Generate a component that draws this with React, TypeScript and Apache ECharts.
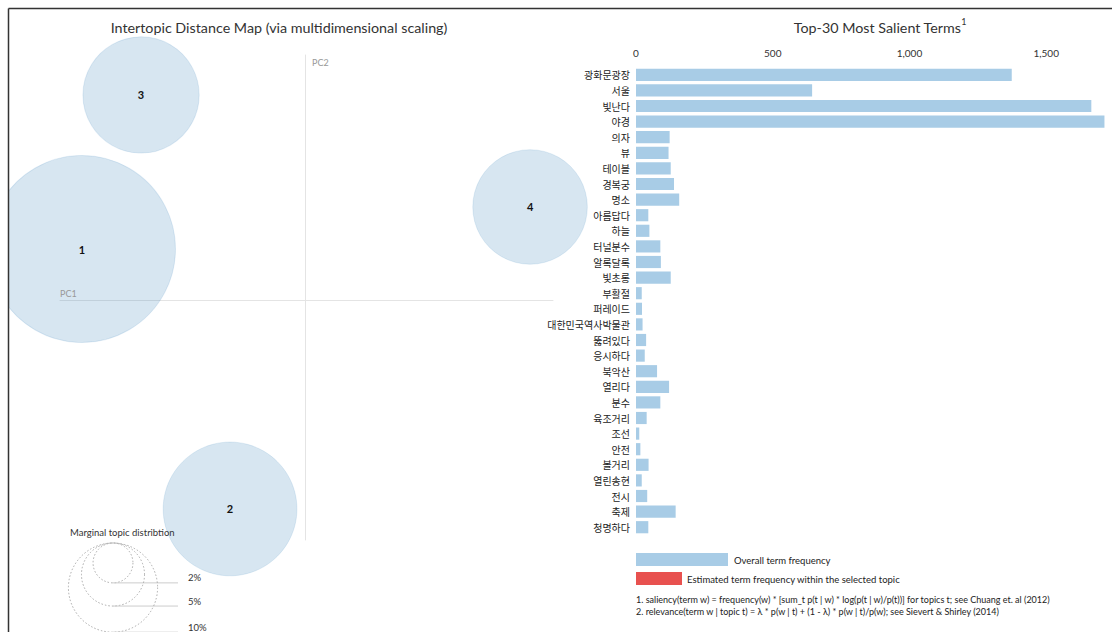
import React, { useEffect, useRef } from "react";
import * as echarts from "echarts";

// ---- Data ----
const TERMS = [
  "광화문광장", "서울", "빛난다", "야경", "의자", "뷰", "테이블", "경복궁", "명소", "아름답다",
  "하늘", "터널분수", "알록달록", "빛초롱", "부활절", "퍼레이드", "대한민국역사박물관", "뚫려있다", "응시하다", "북악산",
  "열리다", "분수", "육조거리", "조선", "안전", "볼거리", "열린송현", "전시", "축제", "청명하다",
];
const TERM_FREQ = [
  1374, 644, 1665, 1713, 123, 119, 127, 139, 158, 45,
  49, 89, 91, 127, 21, 22, 24, 37, 32, 77,
  121, 89, 39, 12, 16, 46, 21, 41, 145, 45,
];
const FREQ_MAX = 1715;
const FREQ_INTERVAL = 500;

const TOPIC_IDS = ["1", "2", "3", "4"];
const TOPIC_PC1 = [-0.2276, -0.0765, -0.1673, 0.2296];
const TOPIC_PC2 = [0.052, -0.2133, 0.2092, 0.0949];
const TOPIC_SHARE = [44, 22.5, 17, 16.5]; // marginal topic distribution, %
const GUIDE_SHARES = [2, 5, 10];

const TITLE_LEFT = "Intertopic Distance Map (via multidimensional scaling)";
const TITLE_RIGHT = "Top-30 Most Salient Terms";
const LEGEND_OVERALL = "Overall term frequency";
const LEGEND_TOPIC = "Estimated term frequency within the selected topic";
const NOTE_1 = "1. saliency(term w) = frequency(w) * [sum_t p(t | w) * log(p(t | w)/p(t))] for topics t; see Chuang et. al (2012)";
const NOTE_2 = "2. relevance(term w | topic t) = λ * p(w | t) + (1 - λ) * p(w | t)/p(w); see Sievert & Shirley (2014)";

// ---- Styles ----
const LATIN = "Lato, 'Noto Sans', sans-serif";
const KOREAN = "'Noto Sans CJK KR', 'Noto Sans', sans-serif";
const BAR_BLUE = "#a8cce6";
const BAR_RED = "#e8514f";
const CIRCLE_FILL = "rgba(31,119,180,0.18)";
const K = 14.1; // px radius per sqrt(%)

export default function App() {
  const ref = useRef<HTMLDivElement>(null);

  useEffect(() => {
    if (!ref.current) return;
    const chart = echarts.init(ref.current, undefined, { renderer: "svg" });

    const guideCx = 113;
    const guideTop = 543;
    const guideX2 = 178;
    const guideEls: any[] = [];
    GUIDE_SHARES.forEach((p) => {
      const r = K * Math.sqrt(p);
      guideEls.push({
        type: "circle",
        shape: { cx: guideCx, cy: guideTop + r, r },
        style: { fill: "none", stroke: "#aaa", lineWidth: 1, lineDash: [1.5, 2] },
        z: 5,
      });
      guideEls.push({
        type: "line",
        shape: { x1: guideCx, y1: guideTop + 2 * r, x2: guideX2, y2: guideTop + 2 * r },
        style: { stroke: "#ccc", lineWidth: 1 },
        z: 5,
      });
      guideEls.push({
        type: "text",
        x: 188,
        y: guideTop + 2 * r - 5,
        style: { text: p + "%", fill: "#333", font: `9.5px ${LATIN}`, textVerticalAlign: "middle" },
        z: 5,
      });
    });

    const option: any = {
      animation: false,
      backgroundColor: "#fff",
      grid: [
        { left: 636, right: 7, top: 67, bottom: 97, containLabel: false },
        { left: 60, right: 559, top: 55, bottom: 92, containLabel: false },
      ],
      xAxis: [
        {
          gridIndex: 0,
          type: "value",
          position: "top",
          min: 0,
          max: FREQ_MAX,
          interval: FREQ_INTERVAL,
          axisLine: { show: false },
          axisTick: { show: false },
          splitLine: { show: false },
          axisLabel: {
            margin: 9,
            color: "#333",
            fontSize: 10,
            fontFamily: LATIN,
            formatter: (v: number) => (v === FREQ_MAX ? "" : v.toLocaleString("en-US")),
          },
        },
        {
          gridIndex: 1,
          type: "value",
          min: -0.25,
          max: 0.253,
          axisLine: { show: true, onZero: true, lineStyle: { color: "#e4e4e4", width: 1 } },
          axisTick: { show: false },
          axisLabel: { show: false },
          splitLine: { show: false },
        },
      ],
      yAxis: [
        {
          gridIndex: 0,
          type: "category",
          inverse: true,
          data: TERMS,
          axisLine: { show: false },
          axisTick: { show: false },
          axisLabel: { margin: 6, color: "#222", fontSize: 10, fontFamily: KOREAN },
        },
        {
          gridIndex: 1,
          type: "value",
          min: -0.245,
          max: 0.25,
          axisLine: { show: true, onZero: true, lineStyle: { color: "#e4e4e4", width: 1 } },
          axisTick: { show: false },
          axisLabel: { show: false },
          splitLine: { show: false },
        },
      ],
      series: [
        {
          type: "bar",
          xAxisIndex: 0,
          yAxisIndex: 0,
          data: TERM_FREQ,
          barCategoryGap: "22%",
          itemStyle: { color: BAR_BLUE },
          silent: true,
        },
        {
          type: "scatter",
          xAxisIndex: 1,
          yAxisIndex: 1,
          clip: false,
          data: TOPIC_IDS.map((id, i) => ({ name: id, value: [TOPIC_PC1[i], TOPIC_PC2[i], TOPIC_SHARE[i]] })),
          symbolSize: (v: number[]) => 2 * K * Math.sqrt(v[2]),
          itemStyle: { color: CIRCLE_FILL, borderColor: "rgba(31,119,180,0.12)", borderWidth: 1, opacity: 1 },
          label: {
            show: true,
            position: "inside",
            formatter: "{b}",
            color: "#111",
            fontSize: 11,
            fontWeight: "bold",
            fontFamily: LATIN,
          },
          silent: true,
        },
      ],
      graphic: {
        elements: [
          // clip area left of the frame
          { type: "rect", shape: { x: 0, y: 0, width: 8, height: 632 }, style: { fill: "#fff" }, z: 100 },
          { type: "rect", shape: { x: 0, y: 0, width: 1112, height: 8 }, style: { fill: "#fff" }, z: 100 },
          { type: "line", shape: { x1: 8.5, y1: 8.5, x2: 1112, y2: 8.5 }, style: { stroke: "#333", lineWidth: 1.5 }, z: 101 },
          { type: "line", shape: { x1: 8.5, y1: 8.5, x2: 8.5, y2: 632 }, style: { stroke: "#333", lineWidth: 1.5 }, z: 101 },
          // titles
          {
            type: "text",
            x: 279,
            y: 27,
            style: { text: TITLE_LEFT, fill: "#333", font: `14.3px ${LATIN}`, textAlign: "center", textVerticalAlign: "middle" },
            z: 10,
          },
          {
            type: "text",
            x: 880,
            y: 27,
            style: {
              text: TITLE_RIGHT + "{sup|1}",
              fill: "#333",
              font: `14.3px ${LATIN}`,
              textAlign: "center",
              textVerticalAlign: "middle",
              lineHeight: 20,
              rich: { sup: { fontSize: 9, fontFamily: LATIN, fill: "#333", verticalAlign: "top", lineHeight: 20 } },
            },
            z: 10,
          },
          // PC labels
          { type: "text", x: 312, y: 62, style: { text: "PC2", fill: "#999", font: `9px ${LATIN}`, textVerticalAlign: "middle" }, z: 10 },
          { type: "text", x: 60, y: 293, style: { text: "PC1", fill: "#999", font: `9px ${LATIN}`, textVerticalAlign: "middle" }, z: 10 },
          // marginal topic distribution
          {
            type: "text",
            x: 70,
            y: 532,
            style: { text: "Marginal topic distribtion", fill: "#333", font: `9.5px ${LATIN}`, textVerticalAlign: "middle" },
            z: 10,
          },
          ...guideEls,
          // legend
          { type: "rect", shape: { x: 636, y: 553, width: 92, height: 13 }, style: { fill: BAR_BLUE }, z: 10 },
          { type: "text", x: 734, y: 560, style: { text: LEGEND_OVERALL, fill: "#222", font: `9.5px ${LATIN}`, textVerticalAlign: "middle" }, z: 10 },
          { type: "rect", shape: { x: 636, y: 572, width: 46, height: 13 }, style: { fill: BAR_RED }, z: 10 },
          { type: "text", x: 687, y: 579, style: { text: LEGEND_TOPIC, fill: "#222", font: `9.5px ${LATIN}`, textVerticalAlign: "middle" }, z: 10 },
          { type: "text", x: 636, y: 599, style: { text: NOTE_1, fill: "#222", font: `9px ${LATIN}`, textVerticalAlign: "middle" }, z: 10 },
          { type: "text", x: 636, y: 611, style: { text: NOTE_2, fill: "#222", font: `9px ${LATIN}`, textVerticalAlign: "middle" }, z: 10 },
        ],
      },
    };

    chart.setOption(option);
    return () => chart.dispose();
  }, []);

  return (
    <div
      ref={ref}
      style={{ position: "fixed", left: 0, top: 0, width: 1112, height: 632, background: "#fff" }}
    />
  );
}
